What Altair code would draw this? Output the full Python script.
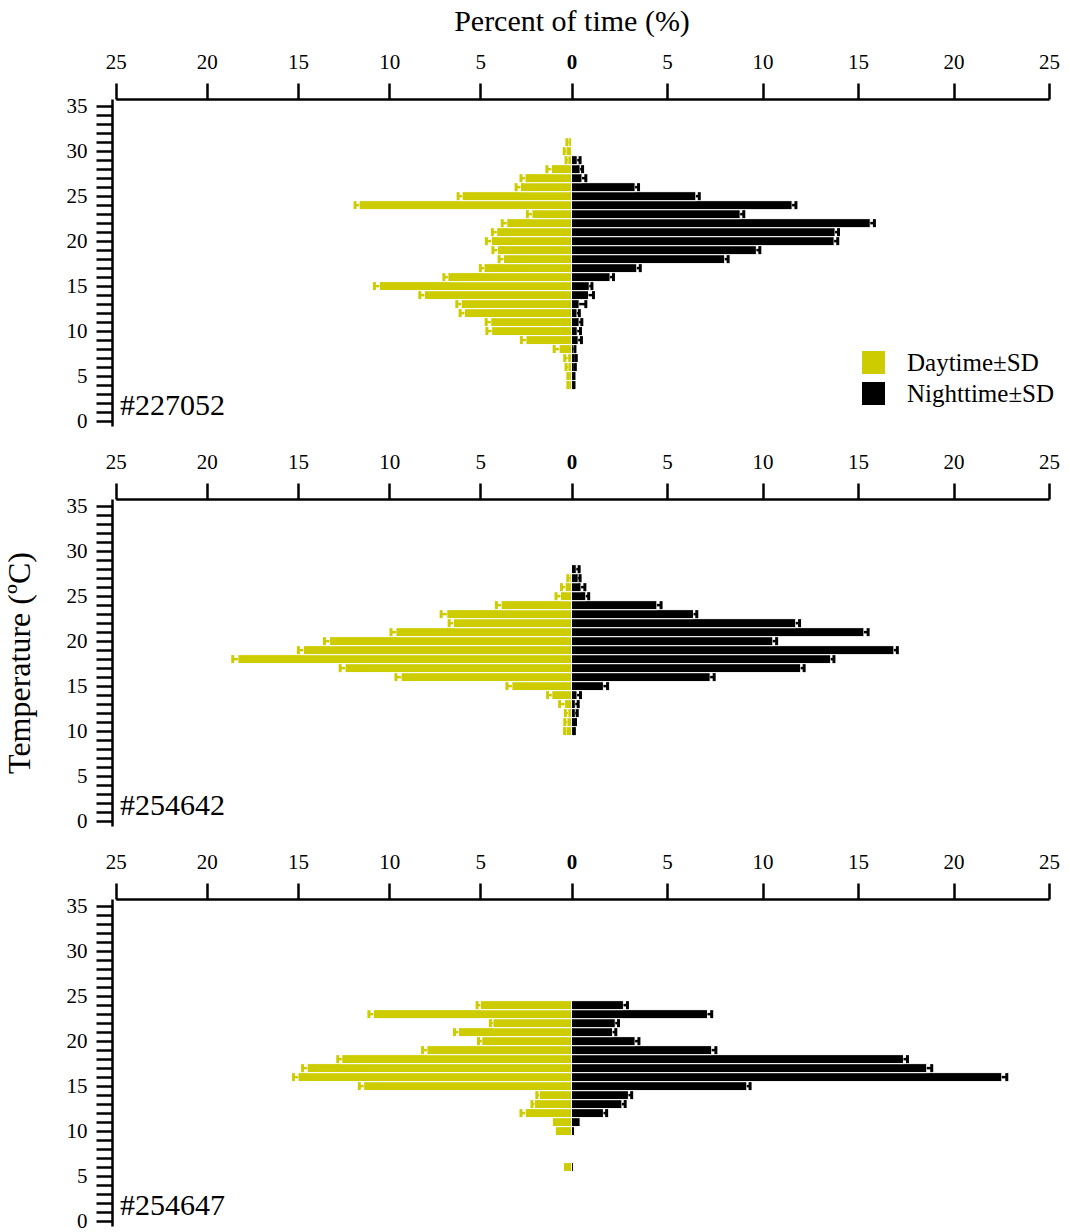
import altair as alt
import pandas as pd

# ---------------- data ----------------
DAY = "Daytime±SD"
NIGHT = "Nighttime±SD"
YELLOW = "#cccc00"
BLACK = "#000000"

# Panel 1  (#227052)
p1_temp = [4, 5, 6, 7, 8, 9, 10, 11, 12, 13, 14, 15, 16, 17, 18, 19, 20, 21, 22, 23, 24, 25, 26, 27, 28, 29, 30, 31]
p1_day = [0.15, 0.15, 0.2, 0.21, 0.68, 2.5, 4.38, 4.43, 5.87, 6.05, 8.07, 10.54, 6.78, 4.8, 3.73, 4.06, 4.4, 4.1, 3.55, 2.17, 11.65, 6.0, 2.8, 2.55, 1.1, 0.2, 0.3, 0.15]
p1_day_sd = [0.05, 0.05, 0.1, 0.16, 0.27, 0.25, 0.26, 0.25, 0.24, 0.24, 0.25, 0.27, 0.22, 0.2, 0.24, 0.25, 0.27, 0.24, 0.25, 0.25, 0.22, 0.22, 0.24, 0.22, 0.25, 0.1, 0.1, 0.1]
p1_night = [0.1, 0.1, 0.15, 0.2, 0.1, 0.35, 0.3, 0.4, 0.29, 0.4, 0.89, 0.93, 2.02, 3.42, 8.02, 9.68, 13.75, 13.8, 15.64, 8.83, 11.55, 6.51, 3.33, 0.55, 0.45, 0.3, 0.0, 0.0]
p1_night_sd = [0.03, 0.03, 0.05, 0.05, 0.08, 0.17, 0.17, 0.14, 0.12, 0.35, 0.26, 0.14, 0.18, 0.18, 0.18, 0.18, 0.19, 0.18, 0.22, 0.19, 0.2, 0.18, 0.18, 0.2, 0.13, 0.15, 0.0, 0.0]

# Panel 2  (#254642)
p2_temp = [10, 11, 12, 13, 14, 15, 16, 17, 18, 19, 20, 21, 22, 23, 24, 25, 26, 27, 28]
p2_day = [0.3, 0.25, 0.2, 0.38, 1.08, 3.27, 9.35, 12.42, 18.3, 14.71, 13.27, 9.63, 6.48, 6.84, 3.86, 0.6, 0.35, 0.1, 0.0]
p2_day_sd = [0.08, 0.12, 0.14, 0.27, 0.23, 0.27, 0.28, 0.27, 0.28, 0.27, 0.28, 0.27, 0.23, 0.31, 0.26, 0.25, 0.2, 0.1, 0.0]
p2_night = [0.1, 0.16, 0.2, 0.2, 0.29, 1.67, 7.26, 12.0, 13.57, 16.88, 10.54, 15.31, 11.74, 6.39, 4.47, 0.75, 0.5, 0.35, 0.25]
p2_night_sd = [0.05, 0.05, 0.1, 0.15, 0.18, 0.22, 0.21, 0.18, 0.17, 0.18, 0.2, 0.22, 0.2, 0.17, 0.22, 0.15, 0.2, 0.1, 0.15]

# Panel 3  (#254647)
p3_temp = [6, 10, 11, 12, 13, 14, 15, 16, 17, 18, 19, 20, 21, 22, 23, 24]
p3_day = [0.44, 0.89, 1.05, 2.54, 2.03, 1.77, 11.4, 15.0, 14.5, 12.6, 7.93, 4.92, 6.2, 4.31, 10.87, 5.0]
p3_day_sd = [0.0, 0.0, 0.0, 0.23, 0.14, 0.13, 0.24, 0.25, 0.25, 0.22, 0.24, 0.18, 0.22, 0.14, 0.24, 0.18]
p3_night = [0.1, 0.16, 0.45, 1.67, 2.64, 2.98, 9.18, 22.53, 18.6, 17.38, 7.34, 3.33, 2.15, 2.29, 7.12, 2.72]
p3_night_sd = [0.0, 0.0, 0.0, 0.17, 0.17, 0.17, 0.17, 0.26, 0.26, 0.21, 0.22, 0.2, 0.17, 0.17, 0.22, 0.21]

panel_names = ["#227052", "#254642", "#254647"]
x_ticks = [-25, -20, -15, -10, -5, 0, 5, 10, 15, 20, 25]
y_ticks = list(range(0, 36))

FONT = "Liberation Serif"
W = 937
H = 327


def table(temp, vals, sds, sign, side):
    rows = []
    for t, v, s in zip(temp, vals, sds):
        if v <= 0:
            continue
        rows.append({"T": t, "lo": t - 0.5, "hi": t + 0.5, "base": 0.0,
                     "v": sign * v, "e": sign * (v + s), "sd": s, "side": side})
    return pd.DataFrame(rows)


xscale = alt.Scale(domain=[-25, 0, 25], range=[3.7, 459.5, W], nice=False, zero=False)
yscale = alt.Scale(domain=[-0.55, 35.8], nice=False, zero=False)


def panel(idx, temp, dv, dsd, nv, nsd):
    day = table(temp, dv, dsd, -1, DAY)
    night = table(temp, nv, nsd, 1, NIGHT)
    both = pd.concat([day, night], ignore_index=True)

    xaxis = alt.Axis(
        orient="top", values=x_ticks, labelExpr="abs(datum.value)",
        tickSize=16, tickWidth=2.5, domainWidth=2.5, domainColor="black", tickColor="black",
        labelFontSize=21, labelFont=FONT, labelColor="black",
        labelPadding=11, labelFlush=False, labelOverlap=False, grid=False,
        labelFontWeight={"condition": {"test": "datum.value === 0", "value": "bold"}, "value": "normal"},
        title="Percent of time (%)" if idx == 0 else None,
        titleFontSize=30, titleFontWeight="normal", titleFont=FONT, titlePadding=15,
        titleX=459.5, titleAlign="center", titleColor="black",
    )
    yaxis = alt.Axis(
        values=y_ticks, labelExpr="datum.value % 5 == 0 ? datum.value : ''",
        tickSize=16, tickWidth=2.5, domainWidth=2.5, domainColor="black", tickColor="black",
        labelFontSize=21, labelFont=FONT, labelColor="black",
        labelPadding=9, labelFlush=False, labelOverlap=False, grid=False,
        title="Temperature (ºC)" if idx == 1 else None,
        titleFontSize=32, titleFontWeight="normal", titleFont=FONT, titlePadding=30,
        titleColor="black",
    )

    if idx == 0:
        legend = alt.Legend(
            title=None, orient="none", legendX=749, legendY=251,
            symbolType="square", symbolSize=529, symbolStrokeWidth=0, symbolOpacity=1,
            labelFontSize=25, labelFont=FONT, labelColor="black", labelOffset=21, rowPadding=5,
        )
    else:
        legend = None

    bars = alt.Chart(both).mark_bar(stroke="white", strokeWidth=1).encode(
        x=alt.X("v:Q", scale=xscale, axis=xaxis),
        x2="base:Q",
        y=alt.Y("lo:Q", scale=yscale, axis=yaxis),
        y2="hi:Q",
        color=alt.Color("side:N", scale=alt.Scale(domain=[DAY, NIGHT], range=[YELLOW, BLACK]), legend=legend),
    )

    layers = [bars]
    for df, col in ((day, YELLOW), (night, BLACK)):
        eb = df[df["sd"] > 0]
        if len(eb) == 0:
            continue
        whisk = alt.Chart(eb).mark_rule(color=col, strokeWidth=2.5).encode(
            x=alt.X("v:Q", scale=xscale, axis=xaxis), x2="e:Q",
            y=alt.Y("T:Q", scale=yscale, axis=yaxis))
        cap = alt.Chart(eb).mark_tick(color=col, orient="vertical", thickness=3, size=8, opacity=1).encode(
            x=alt.X("e:Q", scale=xscale, axis=xaxis),
            y=alt.Y("T:Q", scale=yscale, axis=yaxis))
        layers += [whisk, cap]

    label = alt.Chart(pd.DataFrame({"name": [panel_names[idx]]})).mark_text(
        align="left", baseline="alphabetic", fontSize=30, font=FONT, color="black"
    ).encode(text="name:N", x=alt.value(8), y=alt.value(316))
    layers.append(label)

    return alt.layer(*layers).properties(width=W, height=H)


p1 = panel(0, p1_temp, p1_day, p1_day_sd, p1_night, p1_night_sd)
p2 = panel(1, p2_temp, p2_day, p2_day_sd, p2_night, p2_night_sd)
p3 = panel(2, p3_temp, p3_day, p3_day_sd, p3_night, p3_night_sd)

chart = alt.vconcat(p1, p2, p3, spacing=73, bounds="flush").resolve_scale(
    color="independent"
).properties(
    padding={"left": 3, "top": 6, "right": 5, "bottom": 5}
).configure(
    font=FONT, background="white"
).configure_view(
    stroke=None
).configure_axis(
    domainColor="black", domainWidth=2.5, tickColor="black", tickWidth=2.5,
    labelColor="black", labelFontSize=21, labelFont=FONT, grid=False,
)

chart.save("out.html", embed_options={"renderer": "svg", "actions": False})
